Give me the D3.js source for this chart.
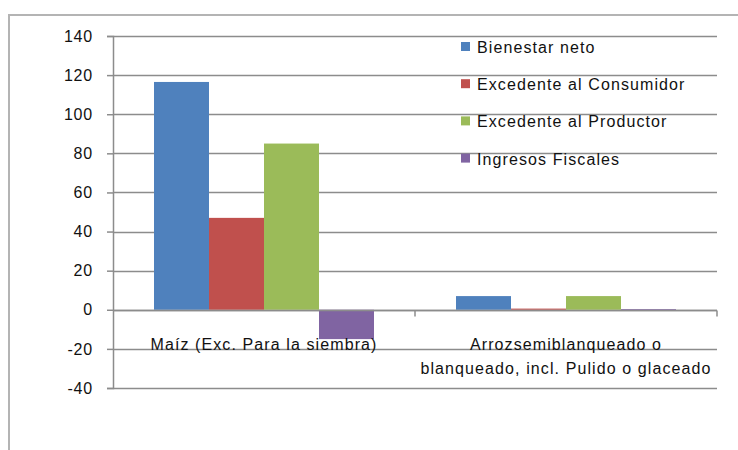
<!DOCTYPE html>
<html>
<head>
<meta charset="utf-8">
<script src="https://cdn.jsdelivr.net/npm/d3@7"></script>
<style>
  html, body { margin: 0; padding: 0; background: #fff; }
  svg text { font-family: "Liberation Sans", Arial, sans-serif; fill: #111; }
</style>
</head>
<body>
<svg id="chart" width="738" height="450"></svg>
<script>
// Welfare effects by product
const categories = [
  ["Maíz (Exc. Para la siembra)"],
  ["Arrozsemiblanqueado o", "blanqueado, incl. Pulido o glaceado"]
];
const seriesNames = ["Bienestar neto", "Excedente al Consumidor", "Excedente al Productor", "Ingresos Fiscales"];
const seriesColors = ["#4F81BD", "#C0504D", "#9BBB59", "#8064A2"];
const bienestarNeto = [116.5, 7];
const excedenteConsumidor = [47, 0.6];
const excedenteProductor = [85, 7];
const ingresosFiscales = [-15, 0.4];
const yTicks = [-40, -20, 0, 20, 40, 60, 80, 100, 120, 140];

const seriesValues = [bienestarNeto, excedenteConsumidor, excedenteProductor, ingresosFiscales];

const svg = d3.select("#chart");
const W = 738, H = 450;
const plot = { left: 113, right: 717, top: 36, bottom: 388 };
const textSpacing = "1.1px";

// outer frame
svg.append("path")
  .attr("d", `M9,${H} L9,15 L${W},15`)
  .attr("fill", "none")
  .attr("stroke", "#b4b4b4")
  .attr("stroke-width", 2);

const y = d3.scaleLinear().domain([-40, 140]).range([plot.bottom, plot.top]);
const x0 = d3.scaleBand().domain(d3.range(categories.length))
  .range([plot.left, plot.right]).paddingInner(0).paddingOuter(0);
const groupPad = 41;
const x1 = d3.scaleBand().domain(d3.range(seriesNames.length))
  .range([groupPad, x0.bandwidth() - groupPad]);

// gridlines
svg.append("g").selectAll("line").data(yTicks).join("line")
  .attr("x1", plot.left).attr("x2", plot.right)
  .attr("y1", d => Math.round(y(d)) + 0.5).attr("y2", d => Math.round(y(d)) + 0.5)
  .attr("stroke", "#8c8c8c").attr("stroke-width", 1.5);

// y axis
const yAxis = svg.append("g")
  .attr("transform", `translate(${plot.left},0)`)
  .call(d3.axisLeft(y).tickValues(yTicks).tickSize(6).tickPadding(14).tickFormat(d => String(d)));
yAxis.select(".domain").attr("stroke", "#8c8c8c").attr("stroke-width", 1.5);
yAxis.selectAll(".tick line").attr("stroke", "#8c8c8c").attr("stroke-width", 1.5);
yAxis.selectAll(".tick text")
  .style("font-family", "'Liberation Sans', Arial, sans-serif")
  .style("font-size", "16px").style("letter-spacing", "0.8px").attr("fill", "#111");

// bars
const groups = svg.append("g").selectAll("g").data(categories).join("g")
  .attr("transform", (d, i) => `translate(${x0(i)},0)`);
groups.selectAll("rect")
  .data((d, i) => seriesValues.map((vals, s) => ({ s, v: vals[i] })))
  .join("rect")
  .attr("x", d => x1(d.s))
  .attr("width", x1.bandwidth())
  .attr("y", d => y(Math.max(0, d.v)))
  .attr("height", d => Math.abs(y(d.v) - y(0)))
  .attr("fill", d => seriesColors[d.s]);

// category axis at zero
const xAxisY = Math.round(y(0)) + 0.5;
svg.append("line")
  .attr("x1", plot.left).attr("x2", plot.right)
  .attr("y1", xAxisY).attr("y2", xAxisY)
  .attr("stroke", "#8c8c8c").attr("stroke-width", 1.5);
svg.append("g").selectAll("line").data(d3.range(1, categories.length + 1)).join("line")
  .attr("x1", i => i < categories.length ? x0(i) : plot.right)
  .attr("x2", i => i < categories.length ? x0(i) : plot.right)
  .attr("y1", xAxisY).attr("y2", xAxisY + 6)
  .attr("stroke", "#8c8c8c").attr("stroke-width", 1.5);

// category labels
const catLabels = svg.append("g").selectAll("text").data(categories).join("text")
  .attr("x", (d, i) => x0(i) + x0.bandwidth() / 2)
  .attr("y", 350)
  .attr("text-anchor", "middle")
  .style("font-size", "16px")
  .style("letter-spacing", textSpacing);
catLabels.selectAll("tspan").data(d => d).join("tspan")
  .attr("x", function () { return d3.select(this.parentNode).attr("x"); })
  .attr("dy", (d, i) => i === 0 ? 0 : 24)
  .text(d => d);

// legend
const legend = svg.append("g").attr("transform", "translate(461,47)");
const items = legend.selectAll("g").data(seriesNames).join("g")
  .attr("transform", (d, i) => `translate(0,${i * 37.2})`);
items.append("rect")
  .attr("x", 0).attr("y", -5).attr("width", 9).attr("height", 9)
  .attr("fill", (d, i) => seriesColors[i]);
items.append("text")
  .attr("x", 16).attr("y", 6)
  .style("font-size", "16px")
  .style("letter-spacing", textSpacing)
  .text(d => d);
</script>
</body>
</html>
